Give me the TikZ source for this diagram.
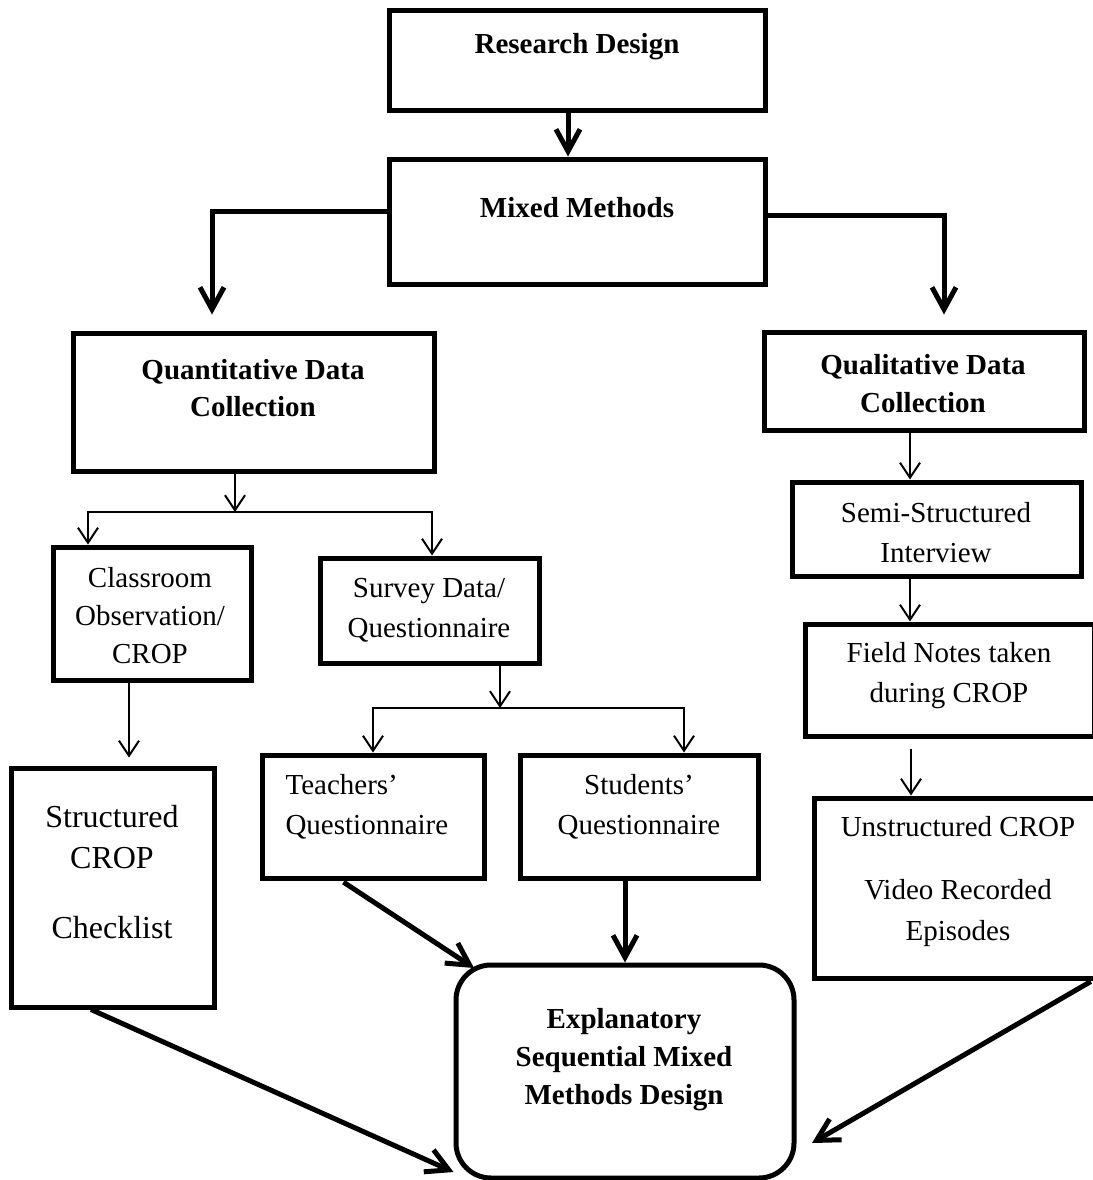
\documentclass[tikz,border=0pt]{standalone}
\usepackage{fontspec}
\setmainfont{Liberation Serif}
\usetikzlibrary{arrows.meta}
\tikzstyle{blockstyle}=[draw, line width=5pt, inner sep=0pt]
\tikzstyle{roundblock}=[blockstyle, rounded corners=35pt]
\tikzstyle{headtext}=[font=\bfseries\fontsize{29}{38}\selectfont, align=center]
\tikzstyle{bodytext}=[font=\fontsize{29}{40}\selectfont, align=center]
\tikzset{
    big arrow/.style={draw, line width=5pt,
        -{Straight Barb[length=22pt,width=24pt]}},
    small arrow/.style={draw, line width=2pt,
        -{Straight Barb[length=15pt,width=20pt]}}}

\begin{document}
\begin{tikzpicture}[x=1pt, y=-1pt]
\useasboundingbox (0,0) rectangle (1092,1180);
% Draw diagram elements
\node[blockstyle, minimum width=376pt, minimum height=100pt] (rd) at (577,61) {};
\node[headtext] (rd-t) at (577,47) {Research Design};
\node[blockstyle, minimum width=376pt, minimum height=125pt] (mm) at (577,221.5) {};
\node[headtext] (mm-t) at (577,208) {Mixed Methods};
\node[blockstyle, minimum width=361pt, minimum height=138pt] (qn) at (253.5,402) {};
\node[headtext, font=\bfseries\fontsize{29}{37}\selectfont] (qn-t) at (253,388.5) {Quantitative Data\\Collection};
\node[blockstyle, minimum width=320pt, minimum height=98pt] (ql) at (924,381) {};
\node[headtext] (ql-t) at (923,384) {Qualitative Data\\Collection};

\node[blockstyle, minimum width=198pt, minimum height=133pt] (co) at (152,613.5) {};
\node[bodytext, font=\fontsize{29}{38}\selectfont] (co-t) at (150,616) {Classroom\\Observation/\\CROP};
\node[blockstyle, minimum width=219pt, minimum height=105pt] (sv) at (429.5,610.5) {};
\node[bodytext] (sv-t) at (429,610) {Survey Data/\\Questionnaire};
\node[blockstyle, minimum width=203pt, minimum height=239pt] (st) at (112.5,887.5) {};
\node[bodytext, font=\fontsize{32}{41}\selectfont] (st-t) at (112,872.5) {Structured\\CROP\\[29pt]Checklist};
\node[blockstyle, minimum width=222pt, minimum height=123pt] (tq) at (373,816.5) {};
\node[bodytext, align=left, anchor=west] (tq-t) at (282,807) {Teachers'\\Questionnaire};
\node[blockstyle, minimum width=238pt, minimum height=123pt] (sq) at (639,816.5) {};
\node[bodytext] (sq-t) at (639,807) {Students'\\Questionnaire};

\node[blockstyle, minimum width=289pt, minimum height=94pt] (si) at (936.5,529) {};
\node[bodytext] (si-t) at (936,532.5) {Semi-Structured\\Interview};
\node[blockstyle, minimum width=289pt, minimum height=112pt] (fn) at (949.5,680) {};
\node[bodytext] (fn-t) at (949,675.5) {Field Notes taken\\during CROP};
\node[blockstyle, minimum width=284pt, minimum height=180pt] (un) at (956,888) {};
\node[bodytext, font=\fontsize{29}{41}\selectfont] (un-t) at (958,882) {Unstructured CROP\\[22pt]Video Recorded\\Episodes};

\node[roundblock, minimum width=338pt, minimum height=213pt] (ex) at (625,1071.5) {};
\node[headtext] (ex-t) at (624,1060) {Explanatory\\Sequential Mixed\\Methods Design};

\coordinate (qn-split) at (235,512);
\coordinate (sv-split) at (500,708);

% Draw arrows between elements
\path [big arrow] ([xshift=-9pt]rd.south) -- ([xshift=-9pt]mm.north);
\path [big arrow, shorten >=16pt] ([yshift=10pt]mm.west) -| ([xshift=-41.5pt]qn.north);
\path [big arrow, shorten >=15pt] ([yshift=6.5pt]mm.east) -| ([xshift=20pt]ql.north);

\path [small arrow] (qn.south -| qn-split) -- (qn-split);
\path [small arrow] (qn-split) -| ([xshift=-64pt]co.north);
\path [small arrow] (qn-split) -| ([xshift=2.5pt]sv.north);
\path [small arrow] (sv.south -| sv-split) -- (sv-split);
\path [small arrow] (sv-split) -| (tq.north);
\path [small arrow] (sv-split) -| ([xshift=45pt]sq.north);
\path [small arrow, shorten >=8pt] ([xshift=-23pt]co.south) -- ([xshift=16.5pt]st.north);

\path [small arrow] ([xshift=-14pt]ql.south) -- ([xshift=-26.5pt]si.north);
\path [small arrow] ([xshift=-26.5pt]si.south) -- ([xshift=-39.5pt]fn.north);
\path [small arrow, shorten <=10pt] ([xshift=-38.5pt]fn.south) -- ([xshift=-45pt]un.north);

\path [big arrow] ([xshift=-21.5pt]st.south) -- ([yshift=8.5pt]ex.south west);
\path [big arrow, shorten <=3pt] ([xshift=-32pt]tq.south) -- ([shift={(20.5pt,-5.5pt)}]ex.north west);
\path [big arrow] (sq.south -| ex.north) -- (ex.north);
\path [big arrow, shorten <=2pt] ([xshift=-8pt]un.south east) -- ([shift={(15.5pt,-71.5pt)}]ex.east);
\end{tikzpicture}
\end{document}
